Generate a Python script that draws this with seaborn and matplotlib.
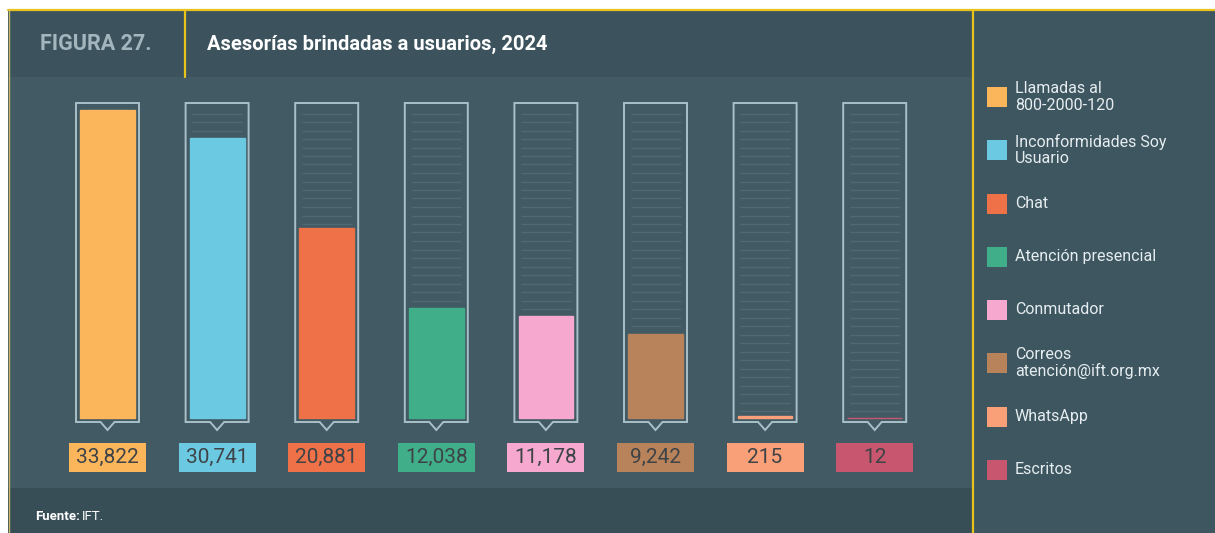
"""
plot.py
Asesorías brindadas a usuarios, 2024 (Figura 27) – recreated with seaborn.
"""

import matplotlib
matplotlib.use("Agg")
import matplotlib.pyplot as plt
from matplotlib.patches import Rectangle, Polygon
import seaborn as sns
import numpy as np
import pandas as pd

# ── Data ───────────────────────────────────────────────────────────────
channels = [
    "Llamadas al\n800-2000-120",
    "Inconformidades Soy\nUsuario",
    "Chat",
    "Atención presencial",
    "Conmutador",
    "Correos\natención@ift.org.mx",
    "WhatsApp",
    "Escritos",
]
values = [33822, 30741, 20881, 12038, 11178, 9242, 215, 12]
value_labels = ["33,822", "30,741", "20,881", "12,038", "11,178", "9,242", "215", "12"]
colors = ["#FBB65B", "#6CC9E2", "#EF7148", "#3FAE89", "#F6A8CF", "#B8835A", "#F9A079", "#C9566F"]

df = pd.DataFrame({"canal": channels, "asesorias": values})

# ── Style ──────────────────────────────────────────────────────────────
sns.set_style("white")
plt.rcParams["font.family"] = ["Roboto", "DejaVu Sans"]

W, H = 1215, 533
BG_HEADER = "#3C535D"
BG_BODY = "#425A64"
BG_FOOTER = "#384E57"
BG_LEGEND = "#3E5660"
YELLOW = "#E9C31C"
FRAME = "#A9C0C9"
STRIPE = "#506973"


def fx(px):
    return px / W


def fy(py):
    return 1 - py / H


fig = plt.figure(figsize=(W / 100, H / 100), dpi=100, facecolor="white")


def panel(x0, y0, x1, y1, color):
    fig.patches.append(Rectangle((fx(x0), fy(y1)), fx(x1) - fx(x0), fy(y0) - fy(y1),
                                 transform=fig.transFigure, facecolor=color,
                                 edgecolor="none", zorder=-2))


panel(8, 10, 973, 77, BG_HEADER)
panel(8, 77, 973, 488, BG_BODY)
panel(8, 488, 973, 533, BG_FOOTER)
panel(973, 10, 1215, 533, BG_LEGEND)


def vline(px, py0, py1, lw, color):
    fig.lines.append(plt.Line2D([fx(px), fx(px)], [fy(py0), fy(py1)],
                                transform=fig.transFigure, color=color, lw=lw, zorder=-1))


fig.lines.append(plt.Line2D([fx(8), 1], [fy(10), fy(10)], transform=fig.transFigure,
                            color=YELLOW, lw=1.6, zorder=-1))
vline(8.5, 10, 533, 1.0, "#C8B96A")
vline(185, 10, 77, 1.6, YELLOW)
vline(973, 10, 533, 1.6, YELLOW)

# ── Header / footer texts ──────────────────────────────────────────────
fig.text(fx(40), fy(44), "FIGURA 27.", color="#A3B6BE", fontsize=15.5,
         fontweight="bold", va="center", ha="left")
fig.text(fx(207), fy(44), "Asesorías brindadas a usuarios, 2024", color="white",
         fontsize=14.5, fontweight="bold", va="center", ha="left")
fig.text(fx(35), fy(517), "Fuente:", color="white", fontsize=9.5,
         fontweight="bold", va="center", ha="left")
fig.text(fx(82), fy(517), "IFT.", color="white", fontsize=9.5, va="center", ha="left")

# ── Bar axes ───────────────────────────────────────────────────────────
# pixel geometry: bar centres 107.5 + 109.6*i, zero line at y=418 px
step_px = 109.6
left_px = 107.5 - step_px / 2
ax_top_px, ax_bot_px, zero_px = 80, 488, 418
k = values[0] / (zero_px - 110)          # data units per pixel (vertical)
ax = fig.add_axes([fx(left_px), fy(ax_bot_px), (8 * step_px) / W, (ax_bot_px - ax_top_px) / H])
ax.set_zorder(5)
ax.set_facecolor("none")

sx = 1 / step_px                          # data units per pixel (horizontal)
frame_top = (zero_px - 103) * k
frame_bot = -4 * k
half_w = 31.5 * sx

for i in range(len(values)):
    # container with notch
    pts = [
        (i - half_w, frame_top), (i - half_w, frame_bot), (i - 7 * sx, frame_bot),
        (i, frame_bot - 8 * k), (i + 7 * sx, frame_bot), (i + half_w, frame_bot),
        (i + half_w, frame_top),
    ]
    ax.add_patch(Polygon(pts, closed=True, facecolor="none", edgecolor=FRAME,
                         lw=1.4, zorder=3))
    # faint stripes inside container
    ys = np.arange(zero_px - 7, 110, -8.5)
    ax.hlines([(zero_px - y) * k for y in ys], i - 25 * sx, i + 25 * sx,
              color=STRIPE, lw=1.0, zorder=1)
    # value label box
    ax.add_patch(Rectangle((i - 38.5 * sx, -(472 - zero_px) * k), 77 * sx, 29 * k,
                           facecolor=colors[i], edgecolor="none", zorder=3))
    ax.text(i, -(457.5 - zero_px) * k, value_labels[i], ha="center", va="center",
            fontsize=15, color="#3E4347", zorder=4)

sns.barplot(data=df, x="canal", y="asesorias", hue="canal", palette=colors,
            saturation=1, width=0.5, legend=False, ax=ax, zorder=2, linewidth=1.0)
for cont, c in zip(ax.containers, colors):
    for bar in cont:
        bar.set_edgecolor(c)
ax.set_xlim(-0.5, 7.5)
ax.set_ylim(-(ax_bot_px - zero_px) * k, (zero_px - ax_top_px) * k)
ax.axis("off")

# ── Legend ─────────────────────────────────────────────────────────────
leg_y = [97, 150, 204, 257, 310, 363, 417, 470]
for c, lab, y in zip(colors, channels, leg_y):
    fig.patches.append(Rectangle((fx(987), fy(y + 10)), 20 / W, 20 / H,
                                 transform=fig.transFigure, facecolor=c,
                                 edgecolor="none", zorder=3))
    fig.text(fx(1015), fy(y), lab, color="#E6EDF0", fontsize=11.5,
             va="center", ha="left", linespacing=1.1)

fig.savefig("out.png", dpi=100, facecolor="white")
